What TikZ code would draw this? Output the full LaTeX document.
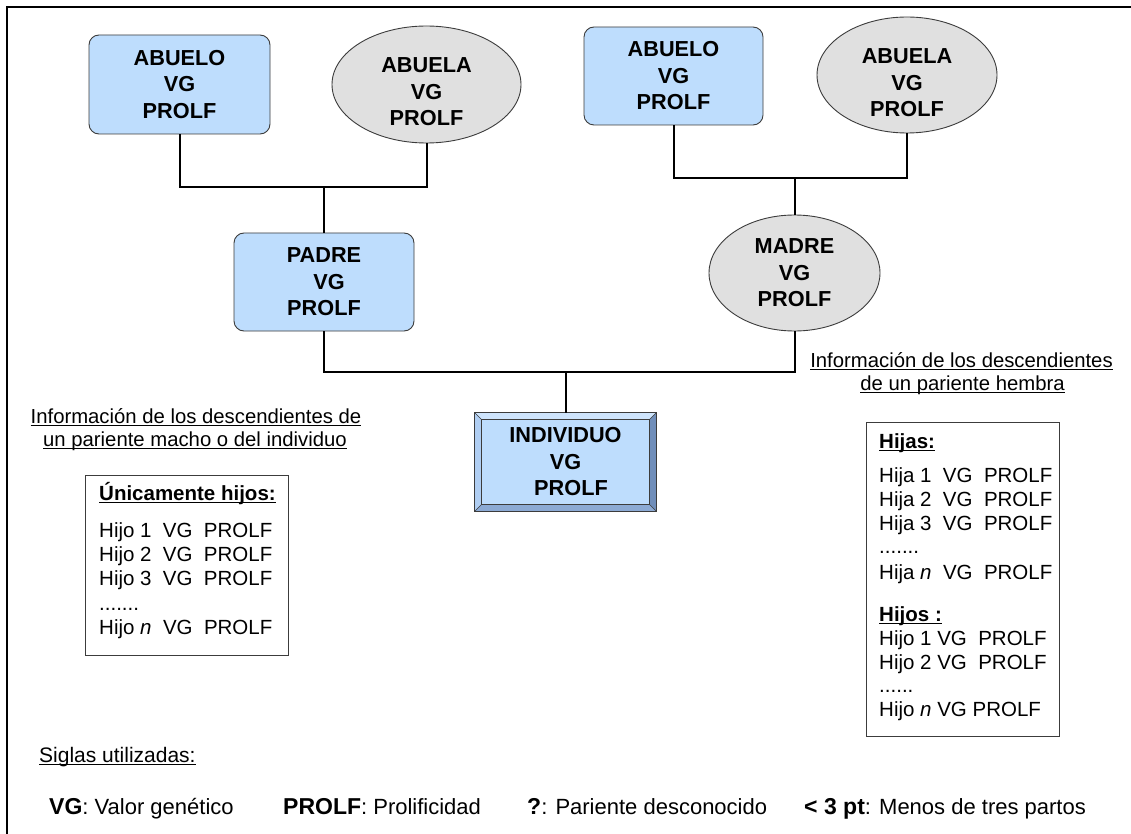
\documentclass[tikz,border=0pt]{standalone}
\usepackage{fontspec}
\setmainfont{Liberation Sans}
\usetikzlibrary{calc,shapes.geometric}

\definecolor{boxblue}{RGB}{190,221,253}
\definecolor{ovalgray}{RGB}{224,224,224}
\definecolor{edgegray}{RGB}{60,60,60}
\definecolor{bevellight}{RGB}{206,228,252}
\definecolor{bevelleft}{RGB}{176,206,242}
\definecolor{beveldark}{RGB}{112,142,186}
\definecolor{bevelbottom}{RGB}{140,170,212}

% underline drawn just below the baseline, through descenders
\newcommand\undl[1]{\sbox0{#1}\rlap{\rule[-3pt]{\wd0}{1.2pt}}\usebox0}

\begin{document}
\begin{tikzpicture}[x=1pt,y=-1pt,
  nodefont/.style={font=\fontsize{21.7}{26.5}\selectfont\bfseries},
  malebox/.style={nodefont, draw=edgegray, line width=0.9pt, fill=boxblue,
    rounded corners=10pt, minimum height=99pt, align=center, inner sep=0pt},
  femaleoval/.style={ellipse, draw=edgegray, line width=0.9pt, fill=ovalgray, inner sep=0pt},
  ovaltext/.style={nodefont, align=center, inner sep=0pt},
  indivbox/.style={nodefont, draw=edgegray, line width=0.9pt, fill=boxblue,
    minimum width=181pt, minimum height=98pt, align=center, inner sep=0pt},
  bevel/.style={draw=edgegray, line width=0.6pt},
  conn/.style={line width=2pt, black, line join=miter},
  listbox/.style={draw=edgegray, line width=1pt, fill=white, inner sep=0pt},
  listline/.style={font=\fontsize{20.5}{24}\selectfont, anchor=base west, inner sep=0pt},
  headline/.style={font=\fontsize{20.3}{24}\selectfont, anchor=base, inner sep=0pt},
  legend/.style={font=\fontsize{22}{24}\selectfont, anchor=base west, inner sep=0pt},
  legbold/.style={font=\fontsize{23}{24}\selectfont\bfseries}
]
\useasboundingbox[fill=white] (0,0) rectangle (1131,834);

% page frame (open at right and bottom)
\draw[line width=2.5pt, line join=miter] (7,834) -- (7,7) -- (1131,7);

% ---- paternal side ----
\node[malebox, minimum width=181pt] (abueloL) at (179.5,84.5) {ABUELO\\VG\\PROLF};
\node[femaleoval, minimum width=189pt, minimum height=117pt] (abuelaL) at (426.5,84.5) {};
\node[ovaltext] (abuelaLt) at (426.5,92) {ABUELA\\VG\\PROLF};
\node[malebox, minimum width=180pt, minimum height=98pt] (padre) at (324,282) {PADRE\\\hspace*{10pt}VG\\PROLF};

% ---- maternal side ----
\node[malebox, minimum width=179pt, minimum height=98pt] (abueloR) at (673.5,76) {ABUELO\\VG\\PROLF};
\node[femaleoval, minimum width=180pt, minimum height=116pt] (abuelaR) at (907,75) {};
\node[ovaltext] (abuelaRt) at (907,83) {ABUELA\\VG\\PROLF};
\node[femaleoval, minimum width=171pt, minimum height=116pt] (madre) at (794.5,273) {};
\node[ovaltext] (madret) at (794.5,273) {MADRE\\VG\\PROLF};

% ---- individual, bevelled box ----
\node[indivbox] (ind) at (565.5,462) {INDIVIDUO\\VG\\\hspace*{11pt}PROLF};
\fill[bevellight] (ind.north west) -- (ind.north east) -- ($(ind.north east)+(-7,7)$) -- ($(ind.north west)+(7,7)$) -- cycle;
\fill[bevelleft] (ind.north west) -- ($(ind.north west)+(7,7)$) -- ($(ind.south west)+(7,-7)$) -- (ind.south west) -- cycle;
\fill[beveldark] (ind.north east) -- (ind.south east) -- ($(ind.south east)+(-7,-7)$) -- ($(ind.north east)+(-7,7)$) -- cycle;
\fill[bevelbottom] (ind.south west) -- (ind.south east) -- ($(ind.south east)+(-7,-7)$) -- ($(ind.south west)+(7,-7)$) -- cycle;
\draw[bevel] ($(ind.north west)+(7,7)$) rectangle ($(ind.south east)+(-7,-7)$);
\draw[bevel] (ind.north west) -- ($(ind.north west)+(7,7)$);
\draw[bevel] (ind.north east) -- ($(ind.north east)+(-7,7)$);
\draw[bevel] (ind.south west) -- ($(ind.south west)+(7,-7)$);
\draw[bevel] (ind.south east) -- ($(ind.south east)+(-7,-7)$);
\draw[edgegray, line width=1pt] (ind.north west) rectangle (ind.south east);

% ---- pedigree connectors ----
\coordinate (barL) at (0,187);
\coordinate (barR) at (0,178);
\coordinate (barI) at (0,372);
\draw[conn] (abueloL.south) -- (abueloL.south |- barL) -- (abuelaL.south |- barL) -- (abuelaL.south);
\draw[conn] (padre.north) -- (padre.north |- barL);
\draw[conn] (abueloR.south) -- (abueloR.south |- barR) -- (abuelaR.south |- barR) -- (abuelaR.south);
\draw[conn] (madre.north) -- (madre.north |- barR);
\draw[conn] (padre.south) -- (padre.south |- barI) -- (madre.south |- barI) -- (madre.south);
\draw[conn] (ind.north) -- (ind.north |- barI);

% ---- descendant information headings ----
\node[headline] (hdL1) at (196,423) {\undl{Información de los descendientes de}};
\node[headline] (hdL2) at (195,446) {\undl{un pariente macho o del individuo}};
\node[headline] (hdR1) at (961.5,367) {\undl{Información de los descendientes}};
\node[headline] (hdR2) at (962.5,390) {\undl{de un pariente hembra}};

% ---- list of sons ----
\node[listbox, minimum width=203pt, minimum height=180pt] (lbox) at (186.5,565) {};
\foreach \yy/\tx [count=\k] in {
    500/{\undl{\bfseries Únicamente hijos:}},
    537/{Hijo 1~~VG~~PROLF},
    561/{Hijo 2~~VG~~PROLF},
    585/{Hijo 3~~VG~~PROLF},
    610/{.......},
    634/{Hijo \textit{n}~~VG~~PROLF}}
  \node[listline] (lrow\k) at (99,\yy) {\tx};

% ---- list of daughters and sons ----
\node[listbox, minimum width=193pt, minimum height=314pt] (rbox) at (962.5,579) {};
\foreach \yy/\tx [count=\k] in {
    448/{\undl{\bfseries Hijas:}},
    482/{Hija 1~~VG~~PROLF},
    506/{Hija 2~~VG~~PROLF},
    530/{Hija 3~~VG~~PROLF},
    553/{.......},
    579/{Hija \textit{n}~~VG~~PROLF},
    621/{\undl{\bfseries Hijos :}},
    645/{Hijo 1 VG~~PROLF},
    669/{Hijo 2 VG~~PROLF},
    692/{......},
    716/{Hijo \textit{n} VG PROLF}}
  \node[listline] (rrow\k) at (879,\yy) {\tx};

% ---- abbreviations ----
\node[legend, font=\fontsize{21}{24}\selectfont] (sig) at (39,762) {\undl{Siglas utilizadas:}};
\node[legend] (lgVG) at (49,814) {{\fontsize{23}{24}\selectfont\bfseries VG}: Valor genético};
\node[legend] (lgPR) at (283,814) {{\fontsize{23}{24}\selectfont\bfseries PROLF}: Prolificidad};
\node[legend] (lgQ) at (527,814) {{\fontsize{23}{24}\selectfont\bfseries ?}: Pariente desconocido};
\node[legend] (lgPT) at (804,814) {{\fontsize{23}{24}\selectfont\bfseries < 3 pt}: Menos de tres partos};
\end{tikzpicture}
\end{document}
